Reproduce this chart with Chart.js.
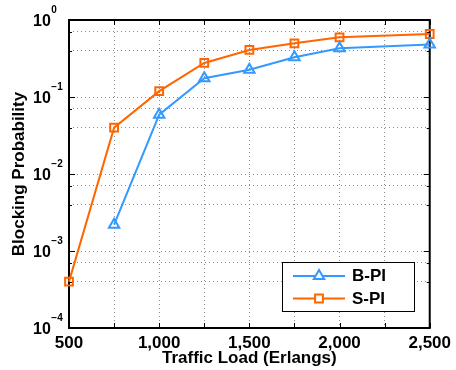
<!DOCTYPE html>
<html>
<head>
<meta charset="utf-8">
<script src="https://cdn.jsdelivr.net/npm/chart.js@4.4.1/dist/chart.umd.min.js"></script>
<style>
  html, body { margin: 0; padding: 0; background: #fff; }
  #wrap { width: 456px; height: 370px; }
</style>
</head>
<body>
<div id="wrap"><canvas id="chart" width="456" height="370"></canvas></div>
<script>
// Values
const trafficLoad = [500, 750, 1000, 1250, 1500, 1750, 2000, 2500];
const blockingBPI = [null, 0.0022, 0.059, 0.175, 0.226, 0.328, 0.43, 0.48];
const blockingSPI = [0.0004, 0.040, 0.119, 0.277, 0.408, 0.498, 0.596, 0.658];
const seriesNames = ['B-PI', 'S-PI'];
const xTickLabels = [500, 1000, 1500, 2000, 2500];
const yDecades = [-4, -3, -2, -1, 0];

const FONT = '"Liberation Sans", Arial, Helvetica, sans-serif';
Chart.defaults.font.family = FONT;

const isDecade = v => Math.abs(Math.log10(v) - Math.round(Math.log10(v))) < 1e-9;

// Box, inward ticks, superscript y labels and legend (MATLAB look)
const framePlugin = {
  id: 'frame',
  beforeDatasetsDraw(chart) {
    const { ctx, chartArea: a, scales } = chart;
    ctx.save();
    ctx.strokeStyle = '#000';
    ctx.lineWidth = 1;
    const seg = (x1, y1, x2, y2) => { ctx.beginPath(); ctx.moveTo(x1, y1); ctx.lineTo(x2, y2); ctx.stroke(); };
    scales.y.ticks.forEach(t => {
      const y = Math.round(scales.y.getPixelForValue(t.value)) + 0.5;
      const len = isDecade(t.value) ? 6 : 3;
      seg(a.left, y, a.left + len, y);
      seg(a.right - len, y, a.right, y);
    });
    scales.x.ticks.forEach(t => {
      const x = Math.round(scales.x.getPixelForValue(t.value)) + 0.5;
      seg(x, a.bottom, x, a.bottom - 5);
      seg(x, a.top, x, a.top + 5);
    });
    ctx.lineWidth = 2;
    ctx.strokeRect(a.left, a.top, a.right - a.left, a.bottom - a.top);
    ctx.restore();
  },
  afterDraw(chart) {
    const { ctx, scales } = chart;
    ctx.save();
    // y tick labels as 10 with superscript exponent
    ctx.fillStyle = '#000';
    ctx.textAlign = 'left';
    ctx.textBaseline = 'alphabetic';
    yDecades.forEach(e => {
      const y = scales.y.getPixelForValue(Math.pow(10, e));
      ctx.font = 'bold 16px ' + FONT;
      ctx.fillText('10', 33, y + 6);
      const w = ctx.measureText('10').width;
      ctx.font = 'bold 10px ' + FONT;
      ctx.fillText(e === 0 ? '0' : '\u2212' + Math.abs(e), 33 + w + 0.5, y - 7);
    });

    // legend box
    const lx = 282.5, ly = 262.5, lw = 132, lh = 49;
    ctx.fillStyle = '#fff';
    ctx.fillRect(lx, ly, lw, lh);
    ctx.strokeStyle = '#000';
    ctx.lineWidth = 1;
    ctx.strokeRect(lx, ly, lw, lh);
    chart.data.datasets.forEach((ds, i) => {
      const y = 276 + i * 22.5;
      ctx.strokeStyle = ds.borderColor;
      ctx.lineWidth = ds.borderWidth;
      ctx.beginPath();
      ctx.moveTo(293, y);
      ctx.lineTo(345, y);
      ctx.stroke();
      ctx.fillStyle = '#fff';
      ctx.lineWidth = ds.pointBorderWidth;
      Chart.helpers.drawPoint(ctx, {
        pointStyle: ds.pointStyle, radius: ds.pointRadius,
        borderWidth: ds.pointBorderWidth, rotation: 0
      }, 319, y);
      ctx.fillStyle = '#000';
      ctx.font = 'bold 17px ' + FONT;
      ctx.textBaseline = 'middle';
      ctx.fillText(ds.label, 352, y + 0.5);
    });
    ctx.restore();
  }
};

const gridStyle = { color: '#8c8c8c', lineWidth: 1, drawTicks: false };

new Chart(document.getElementById('chart'), {
  type: 'line',
  data: {
    datasets: [
      {
        label: seriesNames[0],
        data: trafficLoad.map((x, i) => ({ x, y: blockingBPI[i] })),
        borderColor: '#3399ff',
        backgroundColor: 'rgba(255,255,255,0)',
        borderWidth: 2,
        pointStyle: 'triangle',
        pointRadius: 6,
        pointBorderWidth: 2,
        pointBackgroundColor: 'rgba(255,255,255,0)',
        clip: false
      },
      {
        label: seriesNames[1],
        data: trafficLoad.map((x, i) => ({ x, y: blockingSPI[i] })),
        borderColor: '#ff6600',
        backgroundColor: 'rgba(255,255,255,0)',
        borderWidth: 2,
        pointStyle: 'rect',
        pointRadius: 5.5,
        pointBorderWidth: 2,
        pointBackgroundColor: 'rgba(255,255,255,0)',
        clip: false
      }
    ]
  },
  options: {
    responsive: false,
    animation: false,
    devicePixelRatio: 1,
    layout: { padding: { top: 20, right: 24, left: 0, bottom: 0 } },
    plugins: { legend: { display: false }, tooltip: { enabled: false } },
    scales: {
      x: {
        type: 'linear',
        min: xTickLabels[0],
        max: xTickLabels[xTickLabels.length - 1],
        afterBuildTicks: s => {
          const t = [];
          for (let v = xTickLabels[0]; v <= xTickLabels[xTickLabels.length - 1]; v += 250) t.push({ value: v });
          s.ticks = t;
        },
        afterFit: s => { s.height = 42; },
        ticks: {
          autoSkip: false,
          maxRotation: 0,
          padding: 5,
          color: '#000',
          font: { size: 17, weight: 'bold' },
          callback: v => xTickLabels.includes(v) ? v.toLocaleString('en-US') : ''
        },
        grid: gridStyle,
        border: { display: false, dash: [1, 3] },
        title: {
          display: true,
          text: 'Traffic Load (Erlangs)',
          color: '#000',
          font: { size: 17, weight: 'bold' },
          padding: { top: 0, bottom: 1 }
        }
      },
      y: {
        type: 'logarithmic',
        min: Math.pow(10, yDecades[0]),
        max: Math.pow(10, yDecades[yDecades.length - 1]),
        afterBuildTicks: s => {
          const t = [];
          for (let k = 0; k < yDecades.length - 1; k++) {
            for (let m = 1; m <= 9; m++) t.push({ value: m * Math.pow(10, yDecades[k]), major: m === 1 });
          }
          t.push({ value: Math.pow(10, yDecades[yDecades.length - 1]), major: true });
          s.ticks = t;
        },
        afterFit: s => { s.width = 69; },
        ticks: { callback: () => '' },
        grid: gridStyle,
        border: { display: false, dash: [1, 3] },
        title: {
          display: true,
          text: 'Blocking Probability',
          color: '#000',
          font: { size: 17, weight: 'bold' },
          padding: { top: 9, bottom: 0 }
        }
      }
    }
  },
  plugins: [framePlugin]
});
</script>
</body>
</html>
